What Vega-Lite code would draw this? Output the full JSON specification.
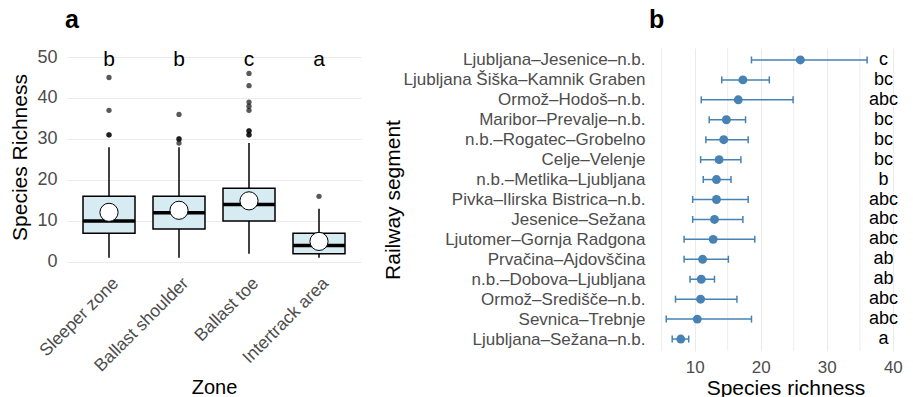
{
  "$schema": "https://vega.github.io/schema/vega-lite/v6.json",
  "background": "white",
  "padding": {"left": 9, "top": 7, "right": 0, "bottom": 0},
  "bounds": "flush",
  "spacing": 296,
  "config": {
    "font": "Liberation Sans",
    "view": {"stroke": null},
    "axis": {
      "domain": false,
      "ticks": false,
      "gridColor": "#ebebeb",
      "labelColor": "#4d4d4d",
      "titleColor": "#000000",
      "titleFontWeight": "normal",
      "labelFont": "Liberation Sans",
      "titleFont": "Liberation Sans",
      "labelOverlap": false,
      "labelLimit": 0
    },
    "title": {
      "font": "Liberation Sans",
      "fontWeight": "bold",
      "fontSize": 25,
      "anchor": "start",
      "frame": "group",
      "color": "#000000",
      "baseline": "alphabetic"
    }
  },
  "datasets": {
    "zones": [
      {"zone": "Sleeper zone", "lo": 1, "q1": 7, "median": 10, "q3": 16, "hi": 28, "mean": 12.1, "group": "b"},
      {"zone": "Ballast shoulder", "lo": 1, "q1": 8, "median": 12, "q3": 16, "hi": 28, "mean": 12.6, "group": "b"},
      {"zone": "Ballast toe", "lo": 2, "q1": 10, "median": 14, "q3": 18, "hi": 29, "mean": 14.9, "group": "c"},
      {"zone": "Intertrack area", "lo": 1, "q1": 2, "median": 4, "q3": 7, "hi": 13, "mean": 5, "group": "a"}
    ],
    "outliers": [
      {"zone": "Sleeper zone", "richness": 31},
      {"zone": "Sleeper zone", "richness": 31},
      {"zone": "Sleeper zone", "richness": 37},
      {"zone": "Sleeper zone", "richness": 45},
      {"zone": "Ballast shoulder", "richness": 29},
      {"zone": "Ballast shoulder", "richness": 30},
      {"zone": "Ballast shoulder", "richness": 30},
      {"zone": "Ballast shoulder", "richness": 36},
      {"zone": "Ballast toe", "richness": 31},
      {"zone": "Ballast toe", "richness": 31},
      {"zone": "Ballast toe", "richness": 32},
      {"zone": "Ballast toe", "richness": 32},
      {"zone": "Ballast toe", "richness": 37},
      {"zone": "Ballast toe", "richness": 38},
      {"zone": "Ballast toe", "richness": 39},
      {"zone": "Ballast toe", "richness": 43},
      {"zone": "Ballast toe", "richness": 46},
      {"zone": "Intertrack area", "richness": 16}
    ],
    "minorTicks": [
      {"richness": 5},
      {"richness": 15},
      {"richness": 25},
      {"richness": 35}
    ],
    "segments": [
      {"segment": "Ljubljana–Jesenice–n.b.", "mean": 26.0, "lo": 18.6, "hi": 36.1, "group": "c"},
      {"segment": "Ljubljana Šiška–Kamnik Graben", "mean": 17.3, "lo": 14.1, "hi": 21.3, "group": "bc"},
      {"segment": "Ormož–Hodoš–n.b.", "mean": 16.6, "lo": 11.0, "hi": 24.9, "group": "abc"},
      {"segment": "Maribor–Prevalje–n.b.", "mean": 14.8, "lo": 12.2, "hi": 17.7, "group": "bc"},
      {"segment": "n.b.–Rogatec–Grobelno", "mean": 14.4, "lo": 11.7, "hi": 18.1, "group": "bc"},
      {"segment": "Celje–Velenje", "mean": 13.7, "lo": 10.9, "hi": 17.0, "group": "bc"},
      {"segment": "n.b.–Metlika–Ljubljana", "mean": 13.3, "lo": 11.3, "hi": 15.5, "group": "b"},
      {"segment": "Pivka–Ilirska Bistrica–n.b.", "mean": 13.3, "lo": 9.7, "hi": 18.1, "group": "abc"},
      {"segment": "Jesenice–Sežana", "mean": 13.0, "lo": 9.7, "hi": 17.3, "group": "abc"},
      {"segment": "Ljutomer–Gornja Radgona", "mean": 12.8, "lo": 8.4, "hi": 19.1, "group": "abc"},
      {"segment": "Prvačina–Ajdovščina", "mean": 11.2, "lo": 8.4, "hi": 15.1, "group": "ab"},
      {"segment": "n.b.–Dobova–Ljubljana", "mean": 11.0, "lo": 9.3, "hi": 13.0, "group": "ab"},
      {"segment": "Ormož–Središče–n.b.", "mean": 10.9, "lo": 7.1, "hi": 16.4, "group": "abc"},
      {"segment": "Sevnica–Trebnje", "mean": 10.4, "lo": 5.7, "hi": 18.6, "group": "abc"},
      {"segment": "Ljubljana–Sežana–n.b.", "mean": 7.9, "lo": 6.6, "hi": 9.1, "group": "a"}
    ]
  },
  "hconcat": [
    {
      "title": {"text": "a", "offset": 15, "dx": -2},
      "width": 294,
      "height": 218,
      "encoding": {
        "x": {
          "field": "zone",
          "type": "nominal",
          "title": "Zone",
          "scale": {
            "type": "point",
            "padding": 0.6,
            "domain": ["Sleeper zone", "Ballast shoulder", "Ballast toe", "Intertrack area"]
          },
          "axis": {
            "labelAngle": -45,
            "labelAlign": "right",
            "labelBaseline": "top",
            "labelFontSize": 17.5,
            "labelPadding": 8,
            "titleFontSize": 20,
            "titlePadding": 3
          }
        }
      },
      "layer": [
        {
          "data": {"name": "zones"},
          "mark": {"type": "rule", "color": "#000000", "strokeWidth": 1.5},
          "encoding": {
            "y": {
              "field": "lo",
              "type": "quantitative",
              "title": "Species Richness",
              "scale": {"domain": [-1, 52.2], "nice": false, "zero": false},
              "axis": {
                "values": [0, 5, 10, 15, 20, 25, 30, 35, 40, 45, 50],
                "labelExpr": "datum.value % 10 === 0 ? datum.label : ''",
                "labelOverlap": false,
                "gridWidth": {"condition": {"test": "datum.value % 10 === 0", "value": 1.1}, "value": 0.8},
                "labelFontSize": 18,
                "labelPadding": 10,
                "titleFontSize": 21,
                "titlePadding": 6
              }
            },
            "y2": {"field": "hi"}
          }
        },
        {
          "data": {"name": "zones"},
          "mark": {"type": "bar", "size": 52, "fill": "#d6ebf2", "stroke": "#000000", "strokeWidth": 1.5},
          "encoding": {
            "y": {"field": "q1", "type": "quantitative", "title": "Species Richness"},
            "y2": {"field": "q3"}
          }
        },
        {
          "data": {"name": "zones"},
          "mark": {"type": "tick", "size": 52, "thickness": 3.5, "color": "#000000", "opacity": 1},
          "encoding": {
            "y": {"field": "median", "type": "quantitative", "title": "Species Richness"}
          }
        },
        {
          "data": {"name": "outliers"},
          "mark": {"type": "circle", "size": 28, "color": "#000000", "opacity": 0.65},
          "encoding": {
            "y": {"field": "richness", "type": "quantitative", "title": "Species Richness"}
          }
        },
        {
          "data": {"name": "zones"},
          "mark": {"type": "point", "filled": true, "size": 330, "fill": "#ffffff", "stroke": "#000000", "strokeWidth": 1, "opacity": 1},
          "encoding": {
            "y": {"field": "mean", "type": "quantitative", "title": "Species Richness"}
          }
        },
        {
          "data": {"name": "zones"},
          "mark": {"type": "text", "fontSize": 21, "color": "#000000", "baseline": "middle", "align": "center"},
          "encoding": {
            "y": {"datum": 49.2, "type": "quantitative"},
            "text": {"field": "group"}
          }
        }
      ]
    },
    {
      "title": {"text": "b", "offset": 15, "dx": -8},
      "width": 257,
      "height": 303,
      "layer": [
        {
          "data": {"name": "minorTicks"},
          "mark": {"type": "rule", "color": "#ebebeb", "strokeWidth": 0.9},
          "encoding": {
            "x": {
              "field": "richness",
              "type": "quantitative",
              "title": "Species richness",
              "scale": {"domain": [4.3, 43.2], "nice": false, "zero": false},
              "axis": {
                "values": [10, 20, 30, 40],
                "gridWidth": 1.1,
                "labelFlush": false,
                "labelFontSize": 17,
                "labelPadding": 8,
                "titleFontSize": 21,
                "titlePadding": 2
              }
            }
          }
        },
        {
          "data": {"name": "segments"},
          "encoding": {
            "y": {
              "field": "segment",
              "type": "nominal",
              "title": "Railway segment",
              "scale": {
                "type": "point",
                "padding": 0.6,
                "domain": [
                  "Ljubljana–Jesenice–n.b.",
                  "Ljubljana Šiška–Kamnik Graben",
                  "Ormož–Hodoš–n.b.",
                  "Maribor–Prevalje–n.b.",
                  "n.b.–Rogatec–Grobelno",
                  "Celje–Velenje",
                  "n.b.–Metlika–Ljubljana",
                  "Pivka–Ilirska Bistrica–n.b.",
                  "Jesenice–Sežana",
                  "Ljutomer–Gornja Radgona",
                  "Prvačina–Ajdovščina",
                  "n.b.–Dobova–Ljubljana",
                  "Ormož–Središče–n.b.",
                  "Sevnica–Trebnje",
                  "Ljubljana–Sežana–n.b."
                ]
              },
              "axis": {
                "labelFontSize": 17,
                "labelPadding": 12,
                "titleFontSize": 21,
                "titleX": -254,
                "titleY": 151.5,
                "gridWidth": 1.1
              }
            }
          },
          "layer": [
            {
              "mark": {"type": "rule", "color": "#4682b4", "strokeWidth": 1.5},
              "encoding": {
                "x": {"field": "lo", "type": "quantitative", "title": "Species richness"},
                "x2": {"field": "hi"}
              }
            },
            {
              "mark": {"type": "tick", "size": 7, "thickness": 1.5, "color": "#4682b4", "opacity": 1},
              "encoding": {
                "x": {"field": "lo", "type": "quantitative", "title": "Species richness"}
              }
            },
            {
              "mark": {"type": "tick", "size": 7, "thickness": 1.5, "color": "#4682b4", "opacity": 1},
              "encoding": {
                "x": {"field": "hi", "type": "quantitative", "title": "Species richness"}
              }
            },
            {
              "mark": {"type": "circle", "size": 80, "color": "#4682b4", "opacity": 1},
              "encoding": {
                "x": {"field": "mean", "type": "quantitative", "title": "Species richness"}
              }
            },
            {
              "mark": {"type": "text", "fontSize": 18, "color": "#000000", "baseline": "middle", "align": "center"},
              "encoding": {
                "x": {"datum": 38.6, "type": "quantitative"},
                "text": {"field": "group"}
              }
            }
          ]
        }
      ]
    }
  ]
}
